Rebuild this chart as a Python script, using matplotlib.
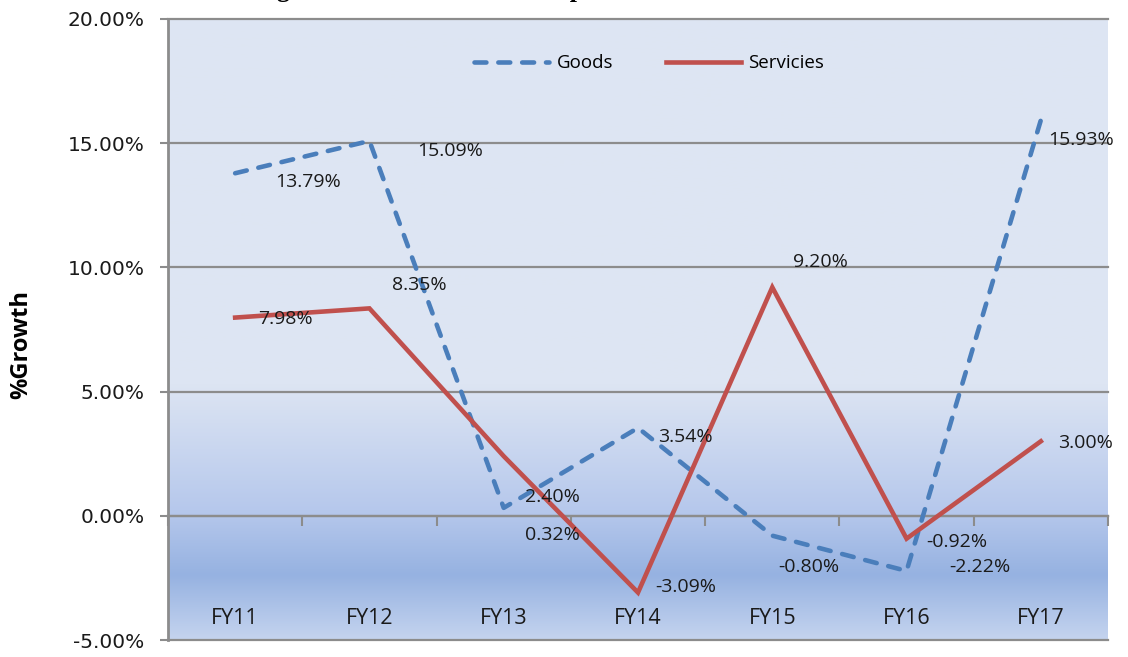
import matplotlib
matplotlib.use("Agg")
import matplotlib.pyplot as plt
import numpy as np

categories = ["FY11", "FY12", "FY13", "FY14", "FY15", "FY16", "FY17"]
goods = [13.79, 15.09, 0.32, 3.54, -0.80, -2.22, 15.93]
services = [7.98, 8.35, 2.40, -3.09, 9.20, -0.92, 3.00]
yticks = [-5, 0, 5, 10, 15, 20]

# label offsets (pixels, dx right, dy down)
goods_off = [(73, 9), (81, 10), (49, 27), (47, 9), (37, 31), (73, -4), (40, 20)]
serv_off = [(50, 1), (50, -23), (49, 41), (48, -6), (48, -25), (50, 3), (45, 2)]

W, H = 1128, 657
fig = plt.figure(figsize=(W / 100, H / 100), dpi=100)
ax = fig.add_axes([168 / W, 1 - 640 / H, 940 / W, 621 / H])
ax.set_xlim(-0.5, len(categories) - 0.5)
ax.set_ylim(-5, 20)

# background gradient
stops = [(-5, (197, 212, 239)), (-2.4, (150, 178, 225)), (0.2, (182, 200, 236)),
         (5.3, (221, 229, 243)), (20, (222, 230, 243))]
yy = np.linspace(-5, 20, 600)
cols = np.zeros((600, 3))
sy = [s[0] for s in stops]
for c in range(3):
    cols[:, c] = np.interp(yy, sy, [s[1][c] / 255 for s in stops])
img = cols[::-1][:, None, :]
ax.imshow(img, extent=[-0.5, len(categories) - 0.5, -5, 20], aspect="auto",
          zorder=0, interpolation="bilinear")

grid_c = "#8c8c8c"
for t in yticks:
    ax.axhline(t, color=grid_c, lw=1.6, zorder=1, clip_on=False)

for s in ["top", "right"]:
    ax.spines[s].set_visible(False)
ax.spines["left"].set_color(grid_c)
ax.spines["left"].set_linewidth(2)
ax.spines["bottom"].set_position(("data", 0))
ax.spines["bottom"].set_color(grid_c)
ax.spines["bottom"].set_linewidth(1.6)

ax.set_yticks(yticks)
ax.set_yticklabels([f"{t:.2f}%" for t in yticks], fontsize=14.5,
                   family="DejaVu Sans", color="#1a1a1a")
ax.tick_params(axis="y", length=6, width=1.5, color=grid_c, pad=11)
ax.set_xticks(np.arange(len(categories) + 1) - 0.5)
ax.set_xticklabels([])
ax.tick_params(axis="x", length=7, width=1.5, color=grid_c, direction="out")

x = np.arange(len(categories))
for i, c in enumerate(categories):
    ax.text(i, -4.15, c, ha="center", va="center", fontsize=15.5,
            family="Open Sans", color="#1a1a1a", zorder=5)

ax.plot(x, goods, color="#4a7ebb", lw=3.3, dashes=(2.6, 2.6),
        dash_capstyle="round", solid_joinstyle="round", zorder=3, label="Goods")
ax.plot(x, services, color="#c0504d", lw=3.3, solid_joinstyle="miter",
        zorder=4, label="Servicies")

for i, v in enumerate(goods):
    dx, dy = goods_off[i]
    ax.annotate(f"{v:.2f}%", (i, v), xytext=(dx, -dy), textcoords="offset pixels",
                ha="center", va="center", fontsize=14, family="Open Sans",
                color="#1a1a1a", zorder=6)
for i, v in enumerate(services):
    dx, dy = serv_off[i]
    ax.annotate(f"{v:.2f}%", (i, v), xytext=(dx, -dy), textcoords="offset pixels",
                ha="center", va="center", fontsize=14, family="Open Sans",
                color="#1a1a1a", zorder=6)

leg = ax.legend(loc="center", bbox_to_anchor=(0.512, 0.929), ncol=2, frameon=False,
                prop={"family": "Open Sans", "size": 13.5}, handlelength=4.0,
                handletextpad=0.4, columnspacing=2.8)

ax.set_ylabel("%Growth", fontsize=17, family="Open Sans", fontweight="bold")
ax.yaxis.set_label_coords((33 - 168) / 940, (640 - 345) / 621)

fig.text(0.492, 1 + 2.5 / H, "Figure 4: GVA Growth in Exports of Goods & Services",
         ha="center", va="baseline", fontsize=18.5, family="Liberation Serif",
         fontweight="bold")

fig.savefig("out.png", dpi=100)
